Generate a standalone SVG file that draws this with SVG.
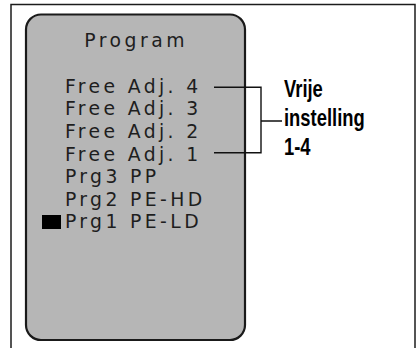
<svg xmlns="http://www.w3.org/2000/svg" width="419" height="348" viewBox="0 0 419 348">
  <style>
    .frame { fill: #ffffff; stroke: #1c1c1c; stroke-width: 1.5; }
    .panel { fill: #b6b6b6; stroke: #1a1a1a; stroke-width: 2.2; }
    .lcd { font-family: "DejaVu Sans", Verdana, sans-serif; font-size: 18.8px; letter-spacing: 3.4px; fill: #1e1e1e; }
    .note { font-family: "Liberation Sans", Arial, sans-serif; font-size: 23px; font-weight: bold; fill: #000000; }
    .wire { fill: none; stroke: #111111; stroke-width: 1.4; }
  </style>

  <rect class="frame" x="11" y="4.5" width="404" height="360"/>

  <g id="display">
    <rect class="panel" x="26" y="14.5" width="219" height="325.5" rx="15" ry="15"/>
    <text class="lcd" x="84.2" y="46.7" style="letter-spacing:3.5px">Program</text>
    <g id="menu">
      <text class="lcd" x="64.9" y="92.7">Free Adj. 4</text>
      <text class="lcd" x="64.9" y="115.3">Free Adj. 3</text>
      <text class="lcd" x="64.9" y="138">Free Adj. 2</text>
      <text class="lcd" x="64.9" y="160.7">Free Adj. 1</text>
      <text class="lcd" x="64.9" y="183.3">Prg3 PP</text>
      <text class="lcd" x="64.9" y="205.8">Prg2 PE-HD</text>
      <text class="lcd" x="64.9" y="228.3">Prg1 PE-LD</text>
    </g>
    <rect id="cursor" x="42" y="215" width="19" height="14" fill="#000000"/>
  </g>

  <g id="connectors">
    <path class="wire" d="M214 87.3 H261 V152.7 H214 M261 121 H282"/>
  </g>

  <g id="label" transform="translate(284 0) scale(0.8 1)">
    <text class="note" x="0" y="97.3">Vrije</text>
    <text class="note" x="0" y="126.5">instelling</text>
    <text class="note" x="0" y="155">1-4</text>
  </g>
</svg>
